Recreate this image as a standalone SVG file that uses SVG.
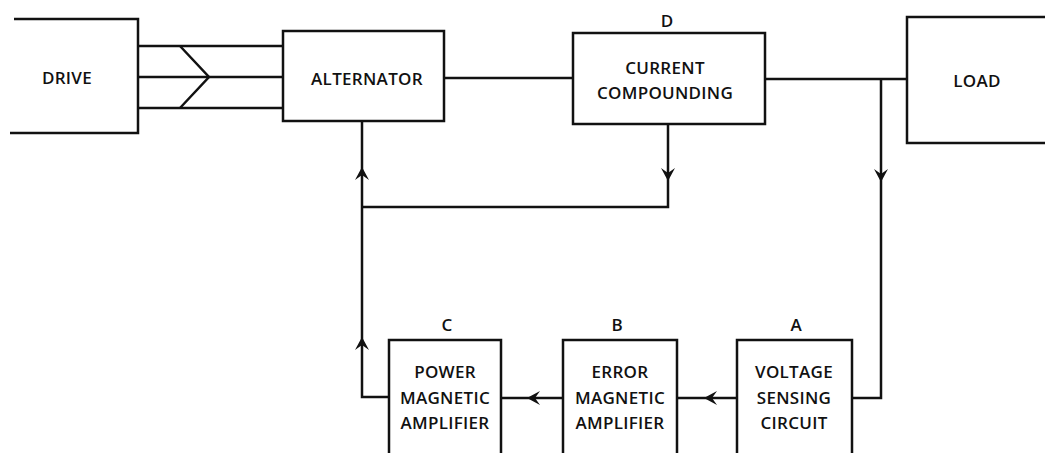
<svg xmlns="http://www.w3.org/2000/svg" width="1045" height="453" viewBox="0 0 1045 453">
<defs>
<style>
.box{fill:#fff;stroke:#111;stroke-width:2.5}
.ln{fill:none;stroke:#111;stroke-width:2.5}
.t{font-family:"Open Sans","Liberation Sans",sans-serif;font-size:17px;font-weight:600;fill:#111;text-anchor:middle;letter-spacing:0.3px}
.lbl{font-family:"Open Sans","Liberation Sans",sans-serif;font-size:17px;font-weight:600;fill:#111;text-anchor:middle}
</style>
<path id="ah" d="M0,0 L-7,-13 L0,-8 L7,-13 Z" fill="#111"/>
</defs>
<rect width="1045" height="453" fill="#fff"/>
<g id="connectors">
<line class="ln" x1="138" y1="46" x2="283" y2="46"/>
<line class="ln" x1="138" y1="77" x2="283" y2="77"/>
<line class="ln" x1="138" y1="108" x2="283" y2="108"/>
<polyline class="ln" points="180,46 209,77 180,108"/>
<line class="ln" x1="444" y1="78" x2="573" y2="78"/>
<line class="ln" x1="765" y1="79" x2="907" y2="79"/>
<polyline class="ln" points="881,79 881,398 852,398"/>
<polyline class="ln" points="668,124 668,207 362,207"/>
<polyline class="ln" points="362,121 362,397 389,397"/>
<line class="ln" x1="737" y1="398" x2="677" y2="398"/>
<line class="ln" x1="563" y1="398" x2="501" y2="398"/>
<use href="#ah" transform="translate(668,181)"/>
<use href="#ah" transform="translate(881,182)"/>
<use href="#ah" transform="translate(362,167) rotate(180)"/>
<use href="#ah" transform="translate(362,337) rotate(180)"/>
<use href="#ah" transform="translate(704,398) rotate(90)"/>
<use href="#ah" transform="translate(527,398) rotate(90)"/>
</g>
<g id="drive">
<polyline class="ln" points="14,19 138,19 138,133 10,133"/>
<text class="t" x="67" y="84">DRIVE</text>
</g>
<g id="alternator">
<rect class="box" x="283" y="31" width="161" height="90"/>
<text class="t" x="367" y="85">ALTERNATOR</text>
</g>
<g id="current-compounding">
<rect class="box" x="573" y="33" width="192" height="91"/>
<text class="lbl" x="667" y="27">D</text>
<text class="t" x="665" y="74">CURRENT</text>
<text class="t" x="665" y="99">COMPOUNDING</text>
</g>
<g id="load">
<polyline class="ln" points="1047,17 907,17 907,143 1047,143"/>
<text class="t" x="977" y="87">LOAD</text>
</g>
<g id="power-amp">
<polyline class="ln" points="389,460 389,340 501,340 501,460"/>
<text class="lbl" x="447" y="331">C</text>
<text class="t" x="445" y="378">POWER</text>
<text class="t" x="445" y="404">MAGNETIC</text>
<text class="t" x="445" y="429">AMPLIFIER</text>
</g>
<g id="error-amp">
<polyline class="ln" points="563,460 563,340 677,340 677,460"/>
<text class="lbl" x="617" y="331">B</text>
<text class="t" x="620" y="378">ERROR</text>
<text class="t" x="620" y="404">MAGNETIC</text>
<text class="t" x="620" y="429">AMPLIFIER</text>
</g>
<g id="voltage-sensing">
<polyline class="ln" points="737,460 737,340 852,340 852,460"/>
<text class="lbl" x="796" y="331">A</text>
<text class="t" x="794" y="378">VOLTAGE</text>
<text class="t" x="794" y="404">SENSING</text>
<text class="t" x="794" y="429">CIRCUIT</text>
</g>
</svg>
